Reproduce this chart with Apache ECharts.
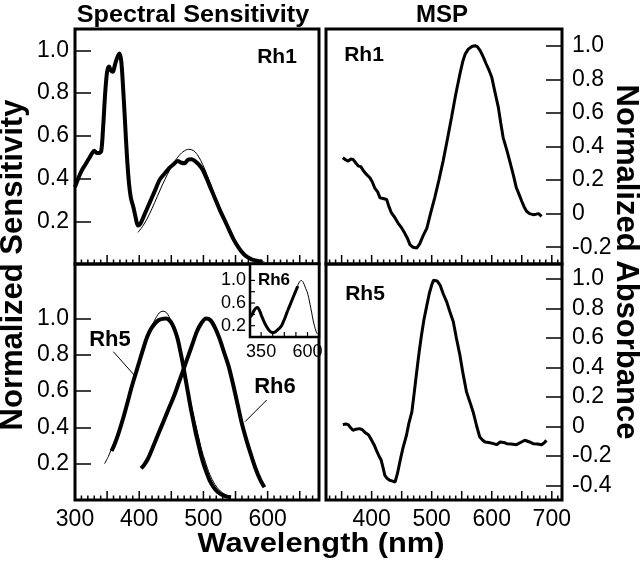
<!DOCTYPE html>
<html><head><meta charset="utf-8">
<script src="https://cdn.jsdelivr.net/npm/echarts@6/dist/echarts.min.js"></script>
<style>html,body{margin:0;padding:0;background:#fff}#c{width:640px;height:562px}</style>
</head><body><div id="c"></div>
<script>
// ---------- Spectral sensitivity, Rh1 (top-left) ----------
const ssRh1Wl  = [300,305,310,316,321,326,330,334,338,341,344,347,350,353,356,359,362,365,369,372,375,378,381,384,387,391,395,398,402,408,416,424,432,440,447,454,460,466,471,476,481,487,493,499,505,512,519,526,533,540,547,554,561,568,575,583,592];
const ssRh1Val = [0.36,0.40,0.435,0.465,0.49,0.515,0.53,0.52,0.52,0.53,0.65,0.80,0.90,0.925,0.905,0.90,0.93,0.96,0.985,0.95,0.82,0.66,0.50,0.38,0.31,0.265,0.21,0.18,0.19,0.23,0.285,0.34,0.395,0.425,0.45,0.468,0.482,0.474,0.472,0.488,0.49,0.482,0.465,0.44,0.40,0.35,0.30,0.25,0.205,0.16,0.115,0.08,0.052,0.033,0.022,0.015,0.011];
const fitRh1Wl  = [398,405,412,420,428,436,444,452,460,468,477,485,492,499,506,513,520,527,534,541,548,555,562,570,578,586,595];
const fitRh1Val = [0.148,0.175,0.21,0.26,0.315,0.37,0.42,0.465,0.5,0.525,0.537,0.53,0.505,0.465,0.415,0.36,0.30,0.245,0.195,0.15,0.11,0.078,0.052,0.032,0.02,0.013,0.01];

// ---------- Spectral sensitivity, Rh5 & Rh6 (bottom-left) ----------
const ssRh5Wl  = [357,362,368,375,382,388,394,400,406,412,418,424,430,436,442,447,452,456,460,464,468,472,476,480,484,488,492,496,500,505,510,516,522,528,535,543];
const ssRh5Val = [0.27,0.31,0.37,0.45,0.54,0.62,0.69,0.76,0.83,0.895,0.94,0.97,0.99,0.998,1.0,0.99,0.965,0.93,0.885,0.82,0.75,0.67,0.59,0.51,0.44,0.37,0.31,0.25,0.20,0.15,0.105,0.07,0.045,0.03,0.02,0.015];
const fitRh5Wl  = [346,352,360,368,376,384,392,400,408,416,424,431,437,443,449,455,461,467,473,479,485,491,497,503,510,518,526,535,543];
const fitRh5Val = [0.2,0.24,0.31,0.38,0.47,0.56,0.66,0.76,0.85,0.93,0.99,1.03,1.04,1.03,0.99,0.93,0.85,0.76,0.66,0.56,0.46,0.37,0.28,0.21,0.14,0.085,0.05,0.028,0.018];
const ssRh6Wl  = [403,408,414,420,427,434,441,448,455,462,469,476,483,490,497,504,511,518,525,532,539,546,553,560,567,574,581,588,595];
const ssRh6Val = [0.174,0.195,0.23,0.28,0.34,0.40,0.46,0.52,0.58,0.65,0.72,0.79,0.86,0.93,0.975,1.0,0.99,0.95,0.89,0.815,0.74,0.64,0.53,0.42,0.33,0.25,0.175,0.115,0.07];
const fitRh6Wl  = [405,412,420,428,436,444,452,460,468,476,484,492,500,506,512,520,530,540,550,560,570,580,590,595];
const fitRh6Val = [0.175,0.22,0.29,0.36,0.43,0.5,0.57,0.64,0.71,0.79,0.87,0.94,0.985,1.0,0.99,0.94,0.84,0.73,0.58,0.42,0.29,0.18,0.11,0.08];

// ---------- Inset: Rh6 full spectrum ----------
const insRh6Wl  = [290,298,306,314,322,330,338,346,354,362,370,380,390,400,410,420,430,440,450,460,470,480,490,500,510,520,530,540,548];
const insRh6Val = [0.35,0.38,0.43,0.48,0.51,0.52,0.49,0.43,0.36,0.3,0.24,0.18,0.13,0.095,0.078,0.08,0.1,0.13,0.16,0.2,0.27,0.35,0.44,0.52,0.6,0.68,0.76,0.84,0.9];
const insFitWl  = [540,550,558,566,574,582,590,598,606,614,622,630,638,646,654];
const insFitVal = [0.84,0.93,0.98,1.0,0.98,0.93,0.86,0.8,0.7,0.57,0.44,0.3,0.19,0.1,0.05];

// ---------- MSP Rh1 (top-right) ----------
const mspRh1Wl  = [352,357,361,365,369,374,378,382,386,391,397,401,405,410,414,419,425,429,433,438,444,450,455,460,464,469,475,480,486,492,498,505,512,519,526,533,540,547,552,556,561,567,572,576,581,586,591,596,600,605,611,615,619,625,630,636,641,646,650,654,658,663,669,674,678,683];
const mspRh1Val = [0.333,0.32,0.313,0.325,0.323,0.30,0.283,0.28,0.257,0.235,0.214,0.19,0.154,0.13,0.094,0.09,0.084,0.04,0.004,-0.02,-0.056,-0.085,-0.116,-0.15,-0.186,-0.2,-0.205,-0.18,-0.13,-0.086,0.0,0.094,0.2,0.313,0.44,0.573,0.71,0.832,0.91,0.952,0.98,0.996,1.0,0.995,0.97,0.932,0.89,0.85,0.813,0.73,0.633,0.54,0.453,0.38,0.313,0.23,0.154,0.11,0.074,0.04,0.014,0.0,-0.006,-0.003,0.0,-0.016];

// ---------- MSP Rh5 (bottom-right) ----------
const mspRh5Wl  = [352,357,361,365,369,374,380,385,389,395,400,404,408,412,416,419,422,426,430,435,439,443,447,452,458,462,467,471,475,479,483,487,492,496,500,503,505.5,509,514,519,525,530,536,541,547,552,558,564,569,575,580,585,589,595,603,608,614,620,625,632,641,648,655,662,669,676,683,688,691];
const mspRh5Val = [0.011,0.015,0.011,-0.01,-0.027,-0.02,-0.016,-0.025,-0.043,-0.06,-0.095,-0.125,-0.163,-0.2,-0.231,-0.28,-0.333,-0.355,-0.366,-0.372,-0.378,-0.32,-0.242,-0.15,-0.061,0.02,0.097,0.23,0.368,0.5,0.617,0.72,0.821,0.9,0.957,0.99,1.0,0.985,0.957,0.9,0.843,0.78,0.708,0.6,0.482,0.36,0.233,0.16,0.097,0.0,-0.073,-0.095,-0.107,-0.11,-0.118,-0.125,-0.107,-0.11,-0.118,-0.12,-0.125,-0.11,-0.095,-0.105,-0.118,-0.12,-0.125,-0.11,-0.095];

// ---------- Tick values & labels ----------
const leftXMajor   = [350,400,450,500,550,600,650];
const leftXMinor   = [310,320,330,340,360,370,380,390,410,420,430,440,460,470,480,490,510,520,530,540,560,570,580,590,610,620,630,640,660,670];
const leftXLabels  = [300,400,500,600];
const rightXMajor  = [350,400,450,500,550,600,650,700];
const rightXMinor  = [330,340,360,370,380,390,410,420,430,440,460,470,480,490,510,520,530,540,560,570,580,590,610,620,630,640,660,670,680,690,710];
const rightXLabels = [400,500,600,700];
const leftYTicks   = [0.2,0.4,0.6,0.8,1.0];
const mspTopYTicks = [-0.2,0,0.2,0.4,0.6,0.8,1.0];
const mspBotYTicks = [-0.4,-0.2,0,0.2,0.4,0.6,0.8,1.0];
const insetXTicks  = [350,412.5,475,537.5,600];
const insetXLabels = [350,600];
const insetYTicks  = [0.2,0.4,0.6,0.8,1.0];
const insetYLabels = [0.2,0.6,1.0];

const F = "'Liberation Sans', Arial, Helvetica, sans-serif";
const FN = "'Liberation Sans Narrow', 'Arial Narrow', 'Liberation Sans', Arial, sans-serif";
const zip = (a, b) => a.map((x, i) => [x, b[i]]);
const fmt = v => (Number(v) === 0 ? '0' : Number(v).toFixed(1));

function xAx(grid, min, max, labels, fam, size, margin) {
  return {
    type: 'value', gridIndex: grid, min: min, max: max, position: 'bottom',
    axisLine: { show: false, onZero: false }, splitLine: { show: false },
    axisTick: { show: false },
    axisLabel: labels ? { show: true, customValues: labels, color: '#000', fontFamily: fam || F, fontSize: size || 23, margin: margin || 8 } : { show: false }
  };
}
function yAx(grid, min, max, pos, ticks) {
  return {
    type: 'value', gridIndex: grid, min: min, max: max, position: pos,
    axisLine: { show: false, onZero: false }, splitLine: { show: false },
    axisTick: { show: true, inside: true, length: 16, customValues: ticks, lineStyle: { color: '#000', width: 1.5 } },
    axisLabel: { show: true, customValues: ticks, formatter: fmt, color: '#000', fontFamily: F, fontSize: 23, margin: pos === 'left' ? 6 : 10 }
  };
}
function line(xi, yi, wl, val, w, smooth) {
  return {
    type: 'line', xAxisIndex: xi, yAxisIndex: yi, data: zip(wl, val),
    symbol: 'none', smooth: smooth, silent: true, z: 3,
    lineStyle: { color: '#000', width: w }
  };
}
function txt(t, x, y, size, opts) {
  opts = opts || {};
  return {
    type: 'text', x: x, y: y, z: 100, rotation: opts.rot || 0,
    scaleX: opts.sx || 1, scaleY: opts.sy || 1,
    style: { text: t, fill: '#000', font: 'bold ' + size + 'px ' + (opts.font || F), align: 'center', verticalAlign: 'middle' }
  };
}
const g = { show: true, borderColor: '#000', borderWidth: 3 };

const chart = echarts.init(document.getElementById('c'));
chart.setOption({
  animation: false,
  backgroundColor: '#fff',
  grid: [
    Object.assign({ left: 75, top: 29, width: 244, height: 235 }, g),
    Object.assign({ left: 75, top: 264, width: 244, height: 236 }, g),
    Object.assign({ left: 326, top: 29, width: 236, height: 235 }, g),
    Object.assign({ left: 326, top: 264, width: 236, height: 236 }, g),
    Object.assign({}, g, { left: 250, top: 264, width: 69, height: 73, borderWidth: 2.5, backgroundColor: '#fff' })
  ],
  xAxis: [
    xAx(0, 300, 680, null),
    xAx(1, 300, 680, leftXLabels),
    xAx(2, 324, 717, null),
    xAx(3, 324, 717, rightXLabels),
    xAx(4, 290, 662, insetXLabels, FN, 18, 6)
  ],
  yAxis: [
    yAx(0, 0, 1.1, 'left', leftYTicks),
    yAx(1, 0, 1.3, 'left', leftYTicks),
    yAx(2, -0.3, 1.1, 'right', mspTopYTicks),
    yAx(3, -0.5, 1.1, 'right', mspBotYTicks),
    {
      type: 'value', gridIndex: 4, min: 0, max: 1.29, position: 'left',
      axisLine: { show: false, onZero: false }, splitLine: { show: false },
      axisTick: { show: false },
      axisLabel: { show: true, customValues: insetYLabels, formatter: fmt, color: '#000', fontFamily: FN, fontSize: 18, margin: 4 }
    }
  ],
  series: [
    line(0, 0, fitRh1Wl, fitRh1Val, 1, 0.3),
    line(0, 0, ssRh1Wl, ssRh1Val, 4, 0.3),
    line(1, 1, fitRh5Wl, fitRh5Val, 1, 0.3),
    Object.assign(line(1, 1, ssRh5Wl, ssRh5Val, 4, 0.3), {
      markLine: { silent: true, symbol: 'none', label: { show: false }, lineStyle: { color: '#000', width: 1, type: 'solid' },
        data: [[{ coord: [359.7, 0.817] }, { coord: [393.5, 0.683] }]] }
    }),
    line(1, 1, fitRh6Wl, fitRh6Val, 1, 0.3),
    Object.assign(line(1, 1, ssRh6Wl, ssRh6Val, 4, 0.3), {
      markLine: { silent: true, symbol: 'none', label: { show: false }, lineStyle: { color: '#000', width: 1, type: 'solid' },
        data: [[{ coord: [598.6, 0.551] }, { coord: [565, 0.432] }]] }
    }),
    line(4, 4, insFitWl, insFitVal, 1, 0.3),
    line(4, 4, insRh6Wl, insRh6Val, 3, 0.3),
    line(2, 2, mspRh1Wl, mspRh1Val, 3, false),
    line(3, 3, mspRh5Wl, mspRh5Val, 3, false)
  ]
});

// Tick marks placed through the chart's own scales (convertToPixel) from the tick arrays.
function xTickEls(axisIdx, values, yMin, len, w) {
  return values.map(v => {
    const p = chart.convertToPixel({ xAxisIndex: axisIdx, yAxisIndex: axisIdx }, [v, yMin]);
    return { type: 'line', z: 101, silent: true,
      shape: { x1: p[0], y1: p[1], x2: p[0], y2: p[1] - len },
      style: { stroke: '#000', lineWidth: w } };
  });
}
function yTickElsLeft(axisIdx, values, xMin, len, w) {
  return values.map(v => {
    const p = chart.convertToPixel({ xAxisIndex: axisIdx, yAxisIndex: axisIdx }, [xMin, v]);
    return { type: 'line', z: 101, silent: true,
      shape: { x1: p[0], y1: p[1], x2: p[0] + len, y2: p[1] },
      style: { stroke: '#000', lineWidth: w } };
  });
}
const tickEls = [].concat(
  xTickEls(0, leftXMajor, 0, 9, 1.5), xTickEls(0, leftXMinor, 0, 4.5, 1.5),
  xTickEls(1, leftXMajor, 0, 9, 1.5), xTickEls(1, leftXMinor, 0, 4.5, 1.5),
  xTickEls(2, rightXMajor, -0.3, 9, 1.5), xTickEls(2, rightXMinor, -0.3, 4.5, 1.5),
  xTickEls(3, rightXMajor, -0.5, 9, 1.5), xTickEls(3, rightXMinor, -0.5, 4.5, 1.5),
  xTickEls(4, insetXTicks, 0, 5, 1.2), yTickElsLeft(4, insetYTicks, 290, 5, 1.2)
);

chart.setOption({
  graphic: tickEls.concat([
    txt('Spectral Sensitivity', 193, 15, 24, { sx: 1.05 }),
    txt('MSP', 442, 15, 24),
    txt('Normalized Sensitivity', 13, 265, 31, { rot: Math.PI / 2 }),
    txt('Normalized Absorbance', 626, 262, 31, { rot: -Math.PI / 2 }),
    txt('Wavelength (nm)', 321, 544, 28, { sx: 1.1 }),
    txt('Rh1', 277, 57, 21),
    txt('Rh1', 364, 55, 21),
    txt('Rh5', 365, 294, 21),
    txt('Rh5', 110, 340, 22),
    txt('Rh6', 275, 387, 22),
    txt('Rh6', 274, 280, 17, { font: FN })
  ])
});
</script>
</body></html>
